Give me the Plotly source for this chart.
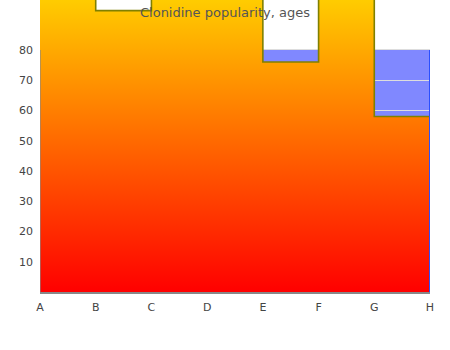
import plotly.graph_objects as go

categories = ["A", "B", "C", "D", "E", "F", "G", "H"]
popularity = [100, 93, 100, 100, 76, 100, 58, 58]
y_ticks = [10, 20, 30, 40, 50, 60, 70, 80]
title_text = "Clonidine popularity, ages"

x_idx = list(range(len(categories)))
y_top = 96.5
y_plot_max = 80

fig = go.Figure()
fig.add_trace(go.Scatter(
    x=x_idx, y=popularity, mode="lines", line=dict(shape="hv", color="#808000", width=1.6),
    fill="tozeroy",
    fillgradient=dict(type="vertical", start=0, stop=y_top,
                      colorscale=[[0, "#ff0000"], [0.5, "#ff6600"], [1, "#ffcc00"]]),
    hoverinfo="skip", showlegend=False,
))

shapes = [
    dict(type="rect", xref="x", yref="y", x0=0, x1=len(categories) - 1, y0=0, y1=y_plot_max,
         fillcolor="#8088ff", line=dict(width=0), layer="below"),
    dict(type="line", xref="x", yref="y", x0=0, x1=0, y0=0, y1=y_plot_max,
         line=dict(color="#888888", width=1.2), layer="above"),
    dict(type="line", xref="x", yref="y", x0=len(categories) - 1, x1=len(categories) - 1,
         y0=0, y1=y_plot_max, line=dict(color="#2a4fff", width=2), layer="above"),
]

fig.update_layout(
    width=450, height=350,
    margin=dict(l=39.5, r=19.5, t=0, b=58),
    paper_bgcolor="white", plot_bgcolor="white",
    font=dict(family="DejaVu Sans", size=11, color="#444444"),
    title=dict(text=title_text, x=0.5, xref="container", xanchor="center",
               y=1 - 12 / 350, yref="container", yanchor="middle",
               font=dict(size=13, color="#555555")),
    shapes=shapes,
    xaxis=dict(range=[0, len(categories) - 1], tickvals=x_idx, ticktext=categories,
               showgrid=False, zeroline=False, showline=True, linecolor="#888888", linewidth=1.5,
               ticks="", ticklabelstandoff=4, tickfont=dict(size=11)),
    yaxis=dict(range=[0, y_top], tickvals=y_ticks, showgrid=True, gridcolor="#dddddd", gridwidth=1,
               zeroline=False, showline=False, ticks="", ticklabelstandoff=6,
               tickfont=dict(size=11)),
)

fig.write_html("out.html")
